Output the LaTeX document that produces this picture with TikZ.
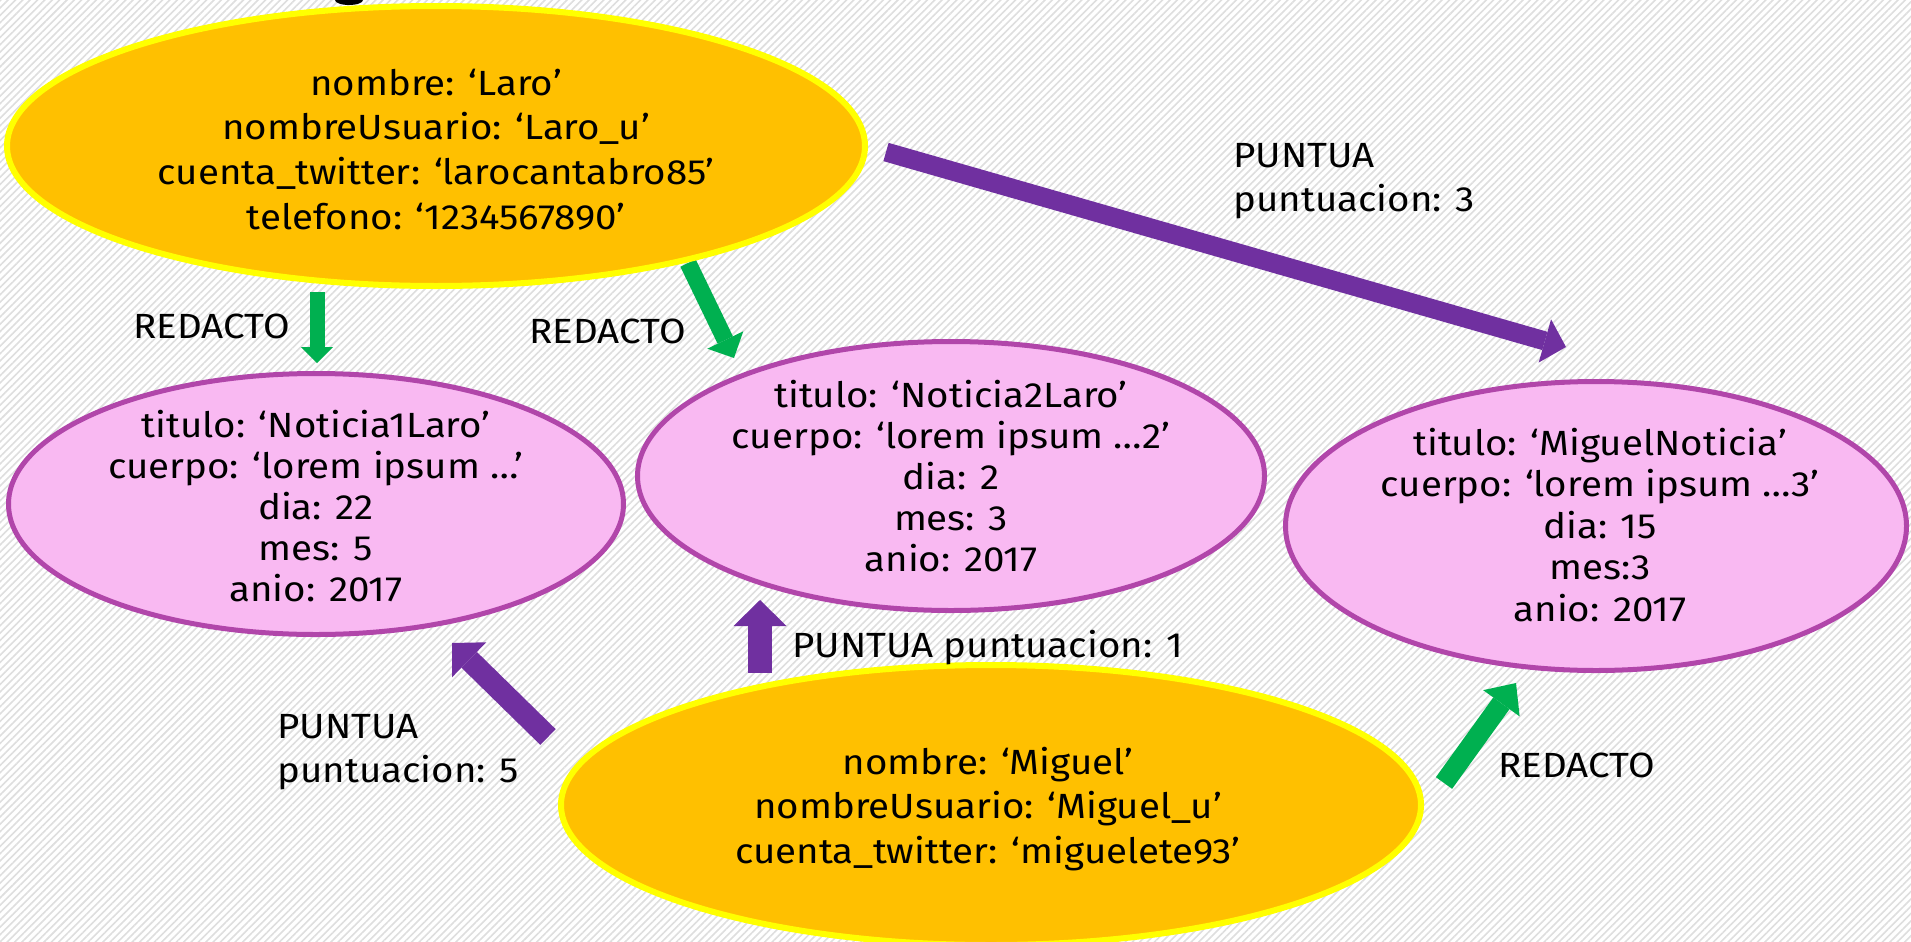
\documentclass[tikz,border=0pt]{standalone}
\usepackage{fontspec}
\setmainfont{Fira Sans}[FakeStretch=1.1]
\usetikzlibrary{arrows.meta,patterns.meta,shapes.geometric}
\definecolor{orangeF}{HTML}{FFC000}
\definecolor{yellowB}{HTML}{FFFF00}
\definecolor{pinkF}{HTML}{F9B9F2}
\definecolor{pinkB}{HTML}{B146AA}
\definecolor{purpA}{HTML}{7030A0}
\definecolor{greenA}{HTML}{00B050}
\definecolor{hatchC}{HTML}{DEDEDE}
\newcommand\mlines[2]{\fontsize{17.5pt}{#1}\selectfont\begin{tabular}[t]{@{}c@{}}#2\end{tabular}}
\newcommand\llines[2]{\fontsize{17.5pt}{#1}\selectfont\begin{tabular}[t]{@{}l@{}}#2\end{tabular}}
\tikzset{
  person/.style={ellipse, fill=orangeF, draw=yellowB, line width=3pt, inner sep=0pt},
  news/.style={ellipse, fill=pinkF, draw=pinkB, line width=2.5pt, inner sep=0pt},
  txt/.style={inner sep=0pt, text=black, anchor=base, font=\fontsize{17.5pt}{22pt}\selectfont},
  lbl/.style={inner sep=0pt, text=black, anchor=base west, font=\fontsize{17.5pt}{22pt}\selectfont},
  blockarrow/.style n args={4}{draw=#1, line width=#2, -{Triangle[width=#3, length=#4, line width=0pt]}}
}
\begin{document}
\begin{tikzpicture}[x=0.5pt, y=-0.5pt]
\path[use as bounding box] (0,0) rectangle (1911,942);
\fill[white] (0,0) rectangle (1911,942);
\fill[pattern={Lines[angle=45,distance=2.6pt,line width=0.8pt]}, pattern color=hatchC] (0,0) rectangle (1911,942);
\fill[black] (349,0) ellipse [x radius=14, y radius=5];

% arrow end points
\coordinate (g1a) at (317,292); \coordinate (g1b) at (317,363);
\coordinate (g2a) at (688,263); \coordinate (g2b) at (734,358);
\coordinate (p3a) at (886,152); \coordinate (p3b) at (1566,347);
\coordinate (p1a) at (760,673); \coordinate (p1b) at (760,600);
\coordinate (p5a) at (548,737); \coordinate (p5b) at (452,643);
\coordinate (g3a) at (1444,783); \coordinate (g3b) at (1516,683);

\draw[blockarrow={greenA}{7.5pt}{16pt}{8pt}] (g1a) -- (g1b);
\draw[blockarrow={greenA}{8.5pt}{20pt}{10pt}] (g2a) -- (g2b);
\draw[blockarrow={purpA}{9.5pt}{22.5pt}{11pt}] (p3a) -- (p3b);
\draw[blockarrow={purpA}{12pt}{26.5pt}{13pt}] (p1a) -- (p1b);
\draw[blockarrow={purpA}{11pt}{24.5pt}{12pt}] (p5a) -- (p5b);
\draw[blockarrow={greenA}{10pt}{22.5pt}{12.5pt}] (g3a) -- (g3b);

% ellipses
\node[person, minimum width=429pt, minimum height=140pt] (laro) at (436,146) {};
\node[news, minimum width=307.5pt, minimum height=130.5pt] (not1) at (316,504) {};
\node[news, minimum width=313.5pt, minimum height=134.5pt] (not2) at (951,476) {};
\node[news, minimum width=310.5pt, minimum height=144.5pt] (not3) at (1596,526) {};
\node[person, minimum width=430pt, minimum height=140pt] (miguel) at (991,805) {};

% ellipse texts
\node[txt] (laroT) at (436,95) {\mlines{22.35pt}{nombre: ‘Laro’\\ nombreUsuario: ‘Laro\_u’\\ cuenta\_twitter: ‘larocantabro85’\\ telefono: ‘1234567890’}};
\node[txt] (not1T) at (316,437) {\mlines{20.6pt}{titulo: ‘Noticia1Laro’\\ cuerpo: ‘lorem ipsum …’\\ dia: 22\\ mes: 5\\ anio: 2017}};
\node[txt] (not2T) at (951,407) {\mlines{20.6pt}{titulo: ‘Noticia2Laro’\\ cuerpo: ‘lorem ipsum …2’\\ dia: 2\\ mes: 3\\ anio: 2017}};
\node[txt] (not3T) at (1600,455) {\mlines{20.75pt}{titulo: ‘MiguelNoticia’\\ cuerpo: ‘lorem ipsum …3’\\ dia: 15\\ mes:3\\ anio: 2017}};
\node[txt] (miguelT) at (988,774) {\mlines{22.25pt}{nombre: ‘Miguel’\\ nombreUsuario: ‘Miguel\_u’\\ cuenta\_twitter: ‘miguelete93’}};

% relation labels
\node[lbl] (r1) at (133,338) {REDACTO};
\node[lbl] (r2) at (529,343) {REDACTO};
\node[lbl] (r3) at (1498,777) {REDACTO};
\node[lbl] (s3) at (1233,167) {\llines{22pt}{PUNTUA\\ puntuacion: 3}};
\node[lbl] (s1) at (792,657) {PUNTUA puntuacion: 1};
\node[lbl] (s5) at (277,738) {\llines{22pt}{PUNTUA\\ puntuacion: 5}};
\end{tikzpicture}
\end{document}
